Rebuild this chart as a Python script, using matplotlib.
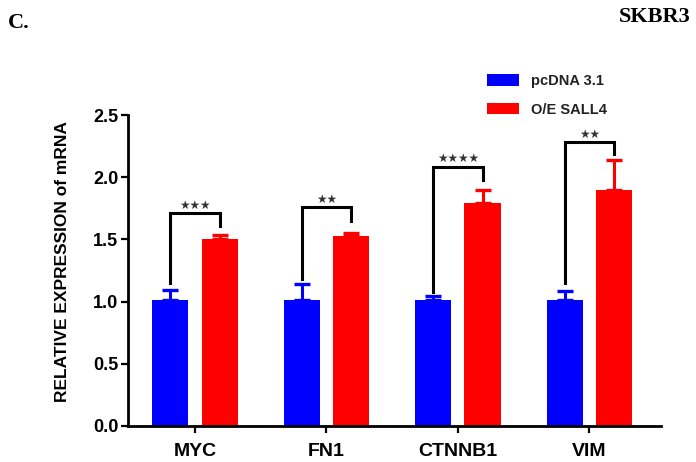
import numpy as np
import matplotlib
matplotlib.use('Agg')
import matplotlib.pyplot as plt

plt.rcParams['font.family'] = ['Liberation Sans', 'DejaVu Sans']
plt.rcParams['font.weight'] = 'bold'

# data
genes = ['MYC', 'FN1', 'CTNNB1', 'VIM']
pcdna = [1.01, 1.01, 1.01, 1.01]
pcdna_err = [0.08, 0.13, 0.035, 0.075]
sall4 = [1.50, 1.53, 1.79, 1.90]
sall4_err = [0.035, 0.025, 0.11, 0.24]
signif = ['***', '**', '****', '**']
bracket_top = [1.71, 1.76, 2.085, 2.28]
bracket_left = [1.15, 1.18, 1.08, 1.15]
bracket_right = [1.61, 1.65, 1.98, 2.19]

x = np.arange(len(genes))
w = 0.274
off = 0.187

fig = plt.figure(figsize=(6.96, 4.62), dpi=100)
ax = fig.add_axes([128/696, 1-426/462, (661-128)/696, (426-115)/462])

err_kw = dict(elinewidth=2.2, capthick=2.4, capsize=6)
b1 = ax.bar(x - off, pcdna, w, color='#0000ff', label='pcDNA 3.1',
            yerr=[np.zeros(4), pcdna_err], ecolor='#0000ff', error_kw=err_kw, zorder=2)
b2 = ax.bar(x + off, sall4, w, color='#ff0000', label='O/E SALL4',
            yerr=[np.zeros(4), sall4_err], ecolor='#ff0000', error_kw=err_kw, zorder=2)

# significance brackets
for i in range(len(genes)):
    xl, xr = x[i] - off, x[i] + off
    ax.plot([xl, xl, xr, xr], [bracket_left[i], bracket_top[i], bracket_top[i], bracket_right[i]],
            color='black', lw=2.2, solid_joinstyle='miter', zorder=3)
    ax.text(x[i], bracket_top[i] + 0.012, '★' * len(signif[i]), ha='center', va='bottom',
            fontsize=8.5, color='#333333', family='DejaVu Sans')

ax.set_xlim(-0.51, 3.545)
ax.set_ylim(0, 2.5)
ax.set_yticks([0, 0.5, 1.0, 1.5, 2.0, 2.5])
ax.set_yticklabels(['0.0', '0.5', '1.0', '1.5', '2.0', '2.5'], fontsize=13, fontweight='bold')
ax.set_xticks(x)
ax.set_xticklabels(genes, fontsize=14, fontweight='bold')
ax.tick_params(axis='both', direction='out', length=5, width=1.6, pad=2)
ax.tick_params(axis='x', pad=7)
for s in ['top', 'right']:
    ax.spines[s].set_visible(False)
for s in ['left', 'bottom']:
    ax.spines[s].set_linewidth(2)

ax.set_ylabel('RELATIVE EXPRESSION of mRNA', fontsize=12.5, fontweight='bold')
ax.yaxis.set_label_coords((70 - 128) / (661 - 128), (426 - 262) / (426 - 115))

fig.legend(handles=[b1, b2], loc='upper left', bbox_to_anchor=(487/696, 1-74/462),
           frameon=False, prop={'size': 10.5, 'weight': 'bold'}, handlelength=2.2,
           handleheight=0.8, labelspacing=1.0, handletextpad=0.8, borderpad=0,
           borderaxespad=0, labelcolor='#222222')

fig.text(8/696, 1-23/462, 'C.', family='Liberation Serif', fontsize=16, fontweight='bold',
         ha='left', va='center')
fig.text(691/696, 1-17/462, 'SKBR3', family='Liberation Serif', fontsize=16, fontweight='bold',
         ha='right', va='center')

fig.savefig('out.png', dpi=100)
